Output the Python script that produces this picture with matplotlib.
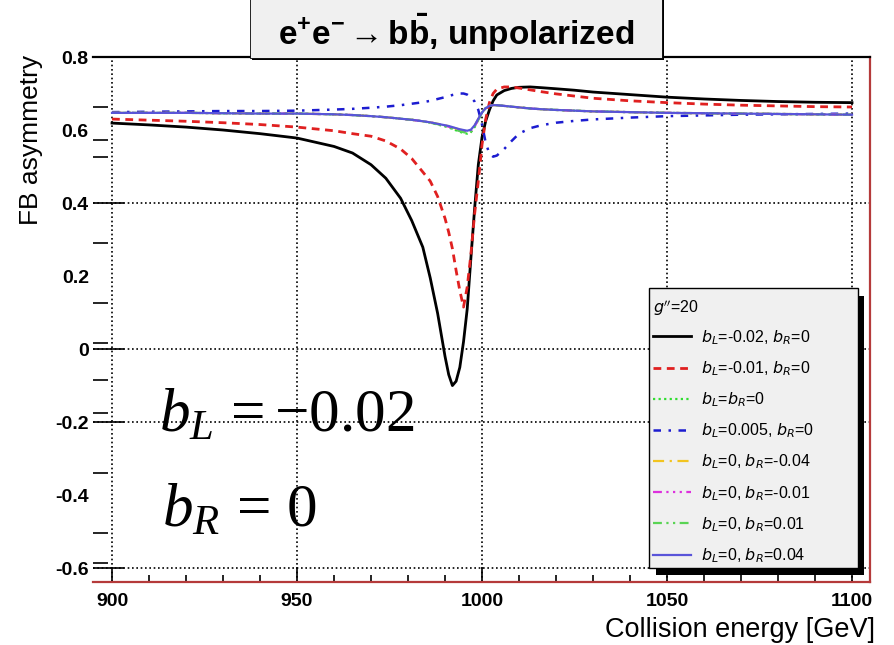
import matplotlib
matplotlib.use("Agg")
import matplotlib.pyplot as plt
from matplotlib.patches import Rectangle
from matplotlib.ticker import MultipleLocator, FixedLocator

plt.rcParams['font.family'] = ['Liberation Sans', 'DejaVu Sans']
plt.rcParams['mathtext.fontset'] = 'dejavusans'
plt.rcParams['mathtext.rm'] = 'Liberation Serif'
plt.rcParams['mathtext.it'] = 'Liberation Serif:italic'
plt.rcParams['mathtext.bf'] = 'Liberation Sans:bold'

# Collision energy grid [GeV]
energy = [900, 910, 920, 930, 940, 950, 960, 965, 970, 974, 978, 981, 984, 986,
          988, 990, 991, 992, 993, 994, 995, 996, 997, 998, 999, 1000, 1001, 1002,
          1003, 1004, 1006, 1008, 1010, 1013, 1016, 1020, 1025, 1030, 1040, 1050,
          1060, 1070, 1080, 1090, 1100]

# Forward-backward asymmetry for each (b_L, b_R) choice, g'' = 20
afb_bl_m002 = [0.619, 0.614, 0.608, 0.600, 0.590, 0.578, 0.555, 0.537, 0.505, 0.468,
               0.413, 0.352, 0.279, 0.195, 0.098, -0.020, -0.070, -0.100, -0.088, -0.050,
               0.020, 0.110, 0.250, 0.385, 0.505, 0.580, 0.625, 0.655, 0.680, 0.696,
               0.708, 0.714, 0.717, 0.718, 0.716, 0.713, 0.709, 0.704, 0.697, 0.690,
               0.685, 0.681, 0.678, 0.676, 0.675]
afb_bl_m001 = [0.630, 0.627, 0.624, 0.620, 0.615, 0.608, 0.598, 0.590, 0.583, 0.570,
               0.548, 0.522, 0.485, 0.460, 0.418, 0.358, 0.320, 0.275, 0.215, 0.160,
               0.115, 0.170, 0.260, 0.370, 0.460, 0.560, 0.630, 0.675, 0.700, 0.712,
               0.718, 0.718, 0.715, 0.710, 0.705, 0.699, 0.693, 0.687, 0.680, 0.675,
               0.671, 0.668, 0.666, 0.664, 0.663]
afb_sm = [0.647, 0.647, 0.647, 0.646, 0.645, 0.645, 0.643, 0.641, 0.638, 0.635,
          0.631, 0.628, 0.624, 0.620, 0.615, 0.610, 0.607, 0.603, 0.599, 0.595,
          0.592, 0.590, 0.594, 0.608, 0.628, 0.648, 0.660, 0.666, 0.668, 0.668,
          0.666, 0.664, 0.662, 0.659, 0.657, 0.655, 0.653, 0.651, 0.649, 0.647,
          0.646, 0.645, 0.644, 0.643, 0.642]
afb_bl_p0005 = [0.649, 0.650, 0.651, 0.652, 0.652, 0.653, 0.656, 0.658, 0.661, 0.664,
                0.668, 0.672, 0.676, 0.680, 0.685, 0.690, 0.693, 0.696, 0.698, 0.700,
                0.700, 0.697, 0.690, 0.678, 0.655, 0.615, 0.565, 0.535, 0.527, 0.530,
                0.548, 0.570, 0.590, 0.605, 0.613, 0.620, 0.625, 0.629, 0.634, 0.638,
                0.640, 0.642, 0.643, 0.644, 0.645]
afb_br_m004 = [0.647, 0.647, 0.647, 0.646, 0.645, 0.645, 0.643, 0.641, 0.638, 0.635,
               0.631, 0.628, 0.624, 0.621, 0.617, 0.613, 0.610, 0.607, 0.604, 0.601,
               0.599, 0.597, 0.600, 0.612, 0.630, 0.648, 0.660, 0.666, 0.668, 0.668,
               0.666, 0.664, 0.662, 0.659, 0.657, 0.655, 0.653, 0.651, 0.649, 0.647,
               0.646, 0.645, 0.644, 0.643, 0.642]
afb_br_m001 = [0.647, 0.647, 0.647, 0.646, 0.645, 0.645, 0.643, 0.641, 0.638, 0.635,
               0.631, 0.628, 0.624, 0.621, 0.617, 0.612, 0.609, 0.606, 0.602, 0.598,
               0.596, 0.594, 0.597, 0.610, 0.629, 0.648, 0.660, 0.666, 0.668, 0.668,
               0.666, 0.664, 0.662, 0.659, 0.657, 0.655, 0.653, 0.651, 0.649, 0.647,
               0.646, 0.645, 0.644, 0.643, 0.642]
afb_br_p001 = [0.647, 0.647, 0.647, 0.646, 0.645, 0.645, 0.643, 0.641, 0.638, 0.635,
               0.631, 0.628, 0.624, 0.620, 0.616, 0.611, 0.608, 0.604, 0.600, 0.597,
               0.594, 0.592, 0.596, 0.609, 0.628, 0.648, 0.660, 0.666, 0.668, 0.668,
               0.666, 0.664, 0.662, 0.659, 0.657, 0.655, 0.653, 0.651, 0.649, 0.647,
               0.646, 0.645, 0.644, 0.643, 0.642]
afb_br_p004 = [0.647, 0.647, 0.647, 0.646, 0.645, 0.645, 0.643, 0.641, 0.638, 0.635,
               0.631, 0.628, 0.624, 0.621, 0.617, 0.613, 0.611, 0.608, 0.605, 0.602,
               0.600, 0.598, 0.601, 0.613, 0.631, 0.648, 0.660, 0.666, 0.668, 0.668,
               0.666, 0.664, 0.662, 0.659, 0.657, 0.655, 0.653, 0.651, 0.649, 0.647,
               0.646, 0.645, 0.644, 0.643, 0.642]

series = [afb_bl_m002, afb_bl_m001, afb_sm, afb_bl_p0005,
          afb_br_m004, afb_br_m001, afb_br_p001, afb_br_p004]
labels = [r"$b_L$=-0.02, $b_R$=0", r"$b_L$=-0.01, $b_R$=0", r"$b_L$=$b_R$=0",
          r"$b_L$=0.005, $b_R$=0", r"$b_L$=0, $b_R$=-0.04", r"$b_L$=0, $b_R$=-0.01",
          r"$b_L$=0, $b_R$=0.01", r"$b_L$=0, $b_R$=0.04"]
colors = ['#000000', '#e02020', '#30dd30', '#1c1cd0', '#f2c420', '#dd30dd',
          '#59d454', '#5954d9']
styles = ['-', (0, (2.8, 2.0)), (0, (1, 1.5)), (0, (3, 3, 1, 3)),
          (0, (5, 2.5, 1, 2.5)), (0, (4, 2, 1, 2, 1, 2, 1, 2)),
          (0, (4, 2, 1, 2, 1, 2)), '-']
widths = [2.0, 2.0, 1.6, 1.8, 1.6, 1.6, 1.6, 1.6]

x_grid = [900, 950, 1000, 1050, 1100]
y_grid = [0.8, 0.4, 0.0, -0.2, -0.6]
y_short_ticks = [0.663, 0.573, 0.527, 0.29, 0.126, 0.016, -0.085, -0.175,
                 -0.34, -0.504, -0.586]

W, H = 895, 645
fig = plt.figure(figsize=(W / 100, H / 100), dpi=100)
ax = fig.add_axes([93 / W, 1 - 582 / H, (870 - 93) / W, (582 - 57) / H])

for xg in x_grid:
    ax.axvline(xg, color='black', lw=1.2, ls=(0, (1, 1.6)), zorder=1)
for yg in y_grid:
    ax.axhline(yg, color='black', lw=1.2, ls=(0, (1, 1.6)), zorder=1)

handles = []
for vals, lab, c, s, w in zip(series, labels, colors, styles, widths):
    ln, = ax.plot(energy, vals, color=c, ls=s, lw=w, zorder=3, label=lab)
    handles.append(ln)

ax.set_xlim(894.86, 1104.86)
ax.set_ylim(-0.638, 0.8)

ax.spines['left'].set_visible(False)
ax.spines['top'].set_color('black')
ax.spines['top'].set_linewidth(1.6)
for side in ('bottom', 'right'):
    ax.spines[side].set_color('#b53a3a')
    ax.spines[side].set_linewidth(1.6)

ax.xaxis.set_major_locator(MultipleLocator(50))
ax.xaxis.set_minor_locator(MultipleLocator(10))
ax.tick_params(axis='x', which='major', direction='in', length=11, width=1.2,
               labelsize=14, pad=8)
ax.tick_params(axis='x', which='minor', direction='in', length=5, width=1.2)

ax.yaxis.set_major_locator(MultipleLocator(0.2))
ax.yaxis.set_minor_locator(FixedLocator(y_short_ticks))
ax.tick_params(axis='y', which='major', direction='in', length=22, width=1.2,
               labelsize=14, pad=3)
ax.tick_params(axis='y', which='minor', direction='in', length=11, width=1.2)
ax.yaxis.set_major_formatter(plt.FuncFormatter(lambda v, p: f"{v:g}"))
for lab in ax.get_xticklabels() + ax.get_yticklabels():
    lab.set_fontweight('bold')

locs = ax.yaxis.get_majorticklocs()
for loc, tk in zip(locs, ax.yaxis.get_major_ticks(len(locs))):
    if not any(abs(loc - g) < 1e-6 for g in y_grid):
        tk.tick1line.set_visible(False)

fig.text(31 / W, 1 - 55 / H, "FB asymmetry", rotation=90, ha='center', va='top',
         fontsize=19)
fig.text(875 / W, 1 - 630 / H, "Collision energy [GeV]", ha='right', va='center',
         fontsize=19.5)

# Parameter annotation
fig.text(159 / W, 1 - 432 / H, r"$b_L\,= -0.02$", fontsize=44, math_fontfamily='custom',
         ha='left', va='baseline', zorder=4)
fig.text(162 / W, 1 - 527 / H, r"$b_R\,=\,0$", fontsize=44, math_fontfamily='custom',
         ha='left', va='baseline', zorder=4)

# Title box
fig.add_artist(Rectangle((252 / W, 1 - 60 / H), (664 - 252) / W, 62 / H,
                         transform=fig.transFigure, fc='black', ec='none', zorder=5))
fig.add_artist(Rectangle((250 / W, 1 - 58 / H), (662 - 250) / W, 60 / H,
                         transform=fig.transFigure, fc='#f0f0f0', ec='black', lw=0.6,
                         zorder=6))
fig.text(456 / W, 1 - 33 / H,
         r"$\mathbf{e^{+}e^{-}}\rightarrow\mathbf{b\bar{b}}$, unpolarized",
         ha='center', va='center', fontsize=24, fontweight='bold',
         math_fontfamily='custom', zorder=7)

# Legend box with offset shadow
fig.add_artist(Rectangle((656 / W, 1 - 575 / H), (864 - 656) / W, (575 - 296) / H,
                         transform=fig.transFigure, fc='black', ec='none', zorder=5))
fig.add_artist(Rectangle((649 / W, 1 - 568 / H), (858 - 649) / W, (568 - 288) / H,
                         transform=fig.transFigure, fc='#f0f0f0', ec='black', lw=1.0,
                         zorder=6))
leg = fig.legend(handles, labels, loc='upper left',
                 bbox_to_anchor=(653 / W, 1 - 298 / H), bbox_transform=fig.transFigure,
                 frameon=False, title=r"$g''$=20", alignment='left', fontsize=11.5,
                 title_fontsize=11.5, handlelength=2.4, handletextpad=0.6,
                 labelspacing=0.78, borderpad=0, borderaxespad=0)
leg.set_zorder(8)
leg._legend_box.sep = 7

fig.savefig("out.png", dpi=100)
